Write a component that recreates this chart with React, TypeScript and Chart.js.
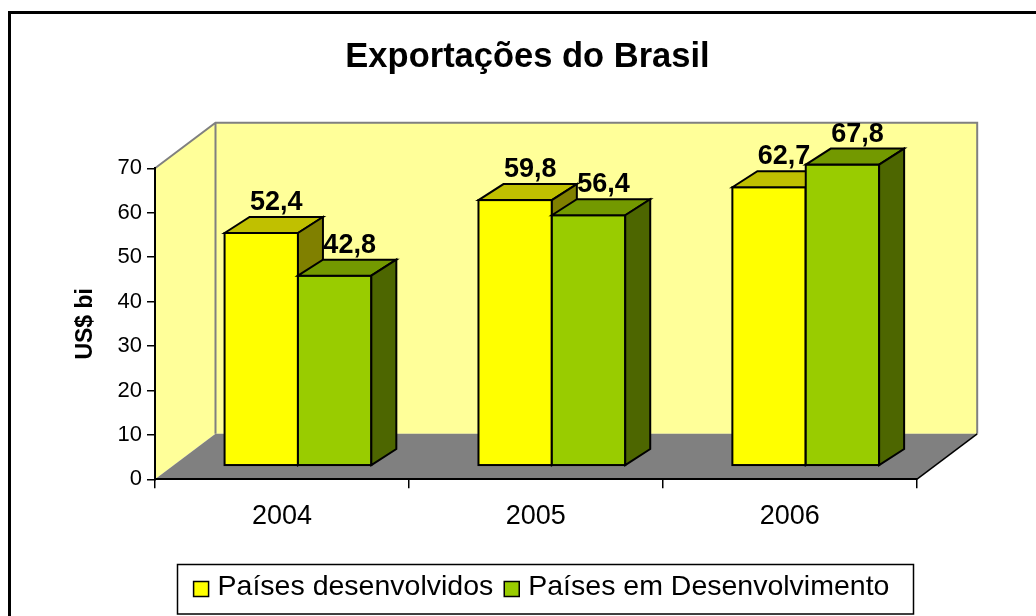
import React, { useEffect, useRef } from "react";
import { Chart, registerables } from "chart.js";

Chart.register(...registerables);

// ---- data ----
const categories = ["2004", "2005", "2006"];
const developed = [52.4, 59.8, 62.7];
const developing = [42.8, 56.4, 67.8];
const seriesNames = ["Países desenvolvidos", "Países em Desenvolvimento"];
const chartTitle = "Exportações do Brasil";
const yAxisTitle = "US$ bi";
const yMin = 0;
const yMax = 70;
const yStep = 10;

// ---- style ----
const FONT = "'Liberation Sans', Arial, Helvetica, sans-serif";
const WALL = { dx: 60.5, dy: -45.5 };
const BAR_SHIFT = { dx: 16, dy: -13.5 };
const BAR_DEPTH = { dx: 25, dy: -16 };
const LEGEND_BOX = { left: 177.5, right: 913.5, top: 564.5, height: 49.5 };
const faceColors = [
  { front: "#FFFF00", top: "#C0C000", side: "#808000" },
  { front: "#99CC00", top: "#739900", side: "#4D6600" },
];

const fmt = (v: number) => v.toFixed(1).replace(".", ",");

const threeD = {
  id: "threeD",
  beforeDraw(chart: any) {
    const ctx = chart.ctx as CanvasRenderingContext2D;
    const { left: L, right: R, top: T, bottom: B } = chart.chartArea;
    const { dx, dy } = WALL;
    ctx.save();
    // outer frame
    ctx.strokeStyle = "#000";
    ctx.lineWidth = 3;
    ctx.beginPath();
    ctx.moveTo(9.5, chart.height + 5);
    ctx.lineTo(9.5, 12.5);
    ctx.lineTo(chart.width + 5, 12.5);
    ctx.stroke();
    // walls
    ctx.fillStyle = "#FFFF99";
    ctx.beginPath();
    ctx.moveTo(L, B);
    ctx.lineTo(L, T);
    ctx.lineTo(L + dx, T + dy);
    ctx.lineTo(L + dx, B + dy);
    ctx.closePath();
    ctx.fill();
    ctx.fillRect(L + dx, T + dy, R - L, B - T);
    // floor
    ctx.fillStyle = "#808080";
    ctx.beginPath();
    ctx.moveTo(L, B);
    ctx.lineTo(L + dx, B + dy);
    ctx.lineTo(R + dx, B + dy);
    ctx.lineTo(R, B);
    ctx.closePath();
    ctx.fill();
    // wall edges
    ctx.strokeStyle = "#808080";
    ctx.lineWidth = 2;
    ctx.beginPath();
    ctx.moveTo(L, T);
    ctx.lineTo(L + dx, T + dy);
    ctx.lineTo(R + dx, T + dy);
    ctx.lineTo(R + dx, B + dy);
    ctx.moveTo(L + dx, T + dy);
    ctx.lineTo(L + dx, B + dy);
    ctx.stroke();
    ctx.strokeStyle = "#000";
    ctx.lineWidth = 1.5;
    ctx.beginPath();
    ctx.moveTo(R, B);
    ctx.lineTo(R + dx, B + dy);
    ctx.stroke();
    // title
    ctx.fillStyle = "#000";
    ctx.font = `bold 34.5px ${FONT}`;
    ctx.textAlign = "center";
    ctx.textBaseline = "alphabetic";
    ctx.fillText(chartTitle, 527.5, 67);
    ctx.restore();
  },
  beforeDatasetDraw(chart: any) {
    chart.ctx.save();
    chart.ctx.translate(BAR_SHIFT.dx, BAR_SHIFT.dy);
  },
  afterDatasetDraw(chart: any) {
    chart.ctx.restore();
  },
  afterDatasetsDraw(chart: any) {
    const ctx = chart.ctx as CanvasRenderingContext2D;
    const { dx, dy } = BAR_DEPTH;
    ctx.save();
    ctx.translate(BAR_SHIFT.dx, BAR_SHIFT.dy);
    ctx.lineWidth = 2;
    ctx.strokeStyle = "#000";
    ctx.lineJoin = "miter";
    const n = chart.data.datasets.length;
    for (let di = 0; di < n; di++) {
      const meta = chart.getDatasetMeta(di);
      const colors = faceColors[di];
      meta.data.forEach((el: any) => {
        const { x, y, base, width } = el.getProps(["x", "y", "base", "width"], true);
        const x0 = x - width / 2;
        const x1 = x + width / 2;
        // front
        ctx.fillStyle = colors.front;
        ctx.fillRect(x0, y, width, base - y);
        ctx.strokeRect(x0, y, width, base - y);
        // top
        ctx.fillStyle = colors.top;
        ctx.beginPath();
        ctx.moveTo(x0, y);
        ctx.lineTo(x0 + dx, y + dy);
        ctx.lineTo(x1 + dx, y + dy);
        ctx.lineTo(x1, y);
        ctx.closePath();
        ctx.fill();
        ctx.stroke();
        // side
        ctx.fillStyle = colors.side;
        ctx.beginPath();
        ctx.moveTo(x1, y);
        ctx.lineTo(x1 + dx, y + dy);
        ctx.lineTo(x1 + dx, base + dy);
        ctx.lineTo(x1, base);
        ctx.closePath();
        ctx.fill();
        ctx.stroke();
      });
    }
    // value labels
    ctx.fillStyle = "#000";
    ctx.font = `bold 27px ${FONT}`;
    ctx.textAlign = "center";
    ctx.textBaseline = "alphabetic";
    for (let di = 0; di < n; di++) {
      const meta = chart.getDatasetMeta(di);
      const values = chart.data.datasets[di].data as number[];
      meta.data.forEach((el: any, i: number) => {
        const { x, y } = el.getProps(["x", "y"], true);
        ctx.fillText(fmt(values[i]), x + 15, y + dy - 7);
      });
    }
    ctx.restore();
  },
  afterDraw(chart: any) {
    const ctx = chart.ctx as CanvasRenderingContext2D;
    ctx.save();
    ctx.font = `28.5px ${FONT}`;
    const sq = 15;
    const gapText = 9;
    const gapItem = 11;
    const { left, right, top, height } = LEGEND_BOX;
    ctx.strokeStyle = "#000";
    ctx.lineWidth = 1.5;
    ctx.strokeRect(left, top, right - left, height);
    const sqTop = 581.5;
    const baseline = 595;
    ctx.textAlign = "left";
    ctx.textBaseline = "alphabetic";
    const w1 = ctx.measureText(seriesNames[0]).width;
    const w2 = ctx.measureText(seriesNames[1]).width;
    const content = sq + gapText + w1 + gapItem + sq + gapText + w2;
    const x1 = left + Math.max(10, (right - left - content) / 2 - 4);
    const x2 = x1 + sq + gapText + w1 + gapItem;
    [x1, x2].forEach((xs, i) => {
      ctx.fillStyle = faceColors[i].front;
      ctx.fillRect(xs, sqTop, sq, sq);
      ctx.lineWidth = 1.5;
      ctx.strokeStyle = "#000";
      ctx.strokeRect(xs, sqTop, sq, sq);
      ctx.fillStyle = "#000";
      ctx.fillText(seriesNames[i], xs + sq + gapText, baseline);
    });
    ctx.restore();
  },
};

export default function App() {
  const ref = useRef<HTMLCanvasElement>(null);
  useEffect(() => {
    const canvas = ref.current;
    if (!canvas) return;
    const chart = new Chart(canvas, {
      type: "bar",
      data: {
        labels: categories,
        datasets: [
          {
            label: seriesNames[0],
            data: developed,
            backgroundColor: faceColors[0].front,
            borderWidth: 0,
            clip: false as any,
          },
          {
            label: seriesNames[1],
            data: developing,
            backgroundColor: faceColors[1].front,
            borderWidth: 0,
            clip: false as any,
          },
        ],
      },
      options: {
        responsive: false,
        devicePixelRatio: 1,
        animation: false,
        events: [],
        datasets: { bar: { categoryPercentage: 0.578, barPercentage: 1 } },
        layout: { padding: { left: 72, right: 1036 - 916.7, top: 168.3, bottom: 0 } },
        plugins: {
          legend: { display: false },
          tooltip: { enabled: false },
          title: { display: false },
        },
        scales: {
          x: {
            ticks: { color: "#000", font: { family: FONT, size: 27 }, padding: 12 },
            grid: { drawOnChartArea: false, drawTicks: true, tickLength: 9, color: "#000", lineWidth: 1.5, offset: true },
            border: { display: true, color: "#000", width: 2 },
            afterFit: (s: any) => {
              s.height = 616 - 479.3;
            },
          },
          y: {
            min: yMin,
            max: yMax,
            ticks: { stepSize: yStep, color: "#000", font: { family: FONT, size: 22 }, padding: 5 },
            grid: { drawOnChartArea: false, drawTicks: true, tickLength: 8, color: "#000", lineWidth: 1.5 },
            border: { display: true, color: "#000", width: 2 },
            title: {
              display: true,
              text: yAxisTitle,
              color: "#000",
              font: { family: FONT, size: 23, weight: "bold" },
              padding: 0,
            },
            afterFit: (s: any) => {
              s.width = 155 - 72;
            },
          },
        },
      },
      plugins: [threeD],
    } as any);
    return () => chart.destroy();
  }, []);
  return (
    <div style={{ position: "fixed", left: 0, top: 0, width: 1036, height: 616, background: "#fff" }}>
      <canvas ref={ref} width={1036} height={616} style={{ display: "block", width: 1036, height: 616 }} />
    </div>
  );
}
